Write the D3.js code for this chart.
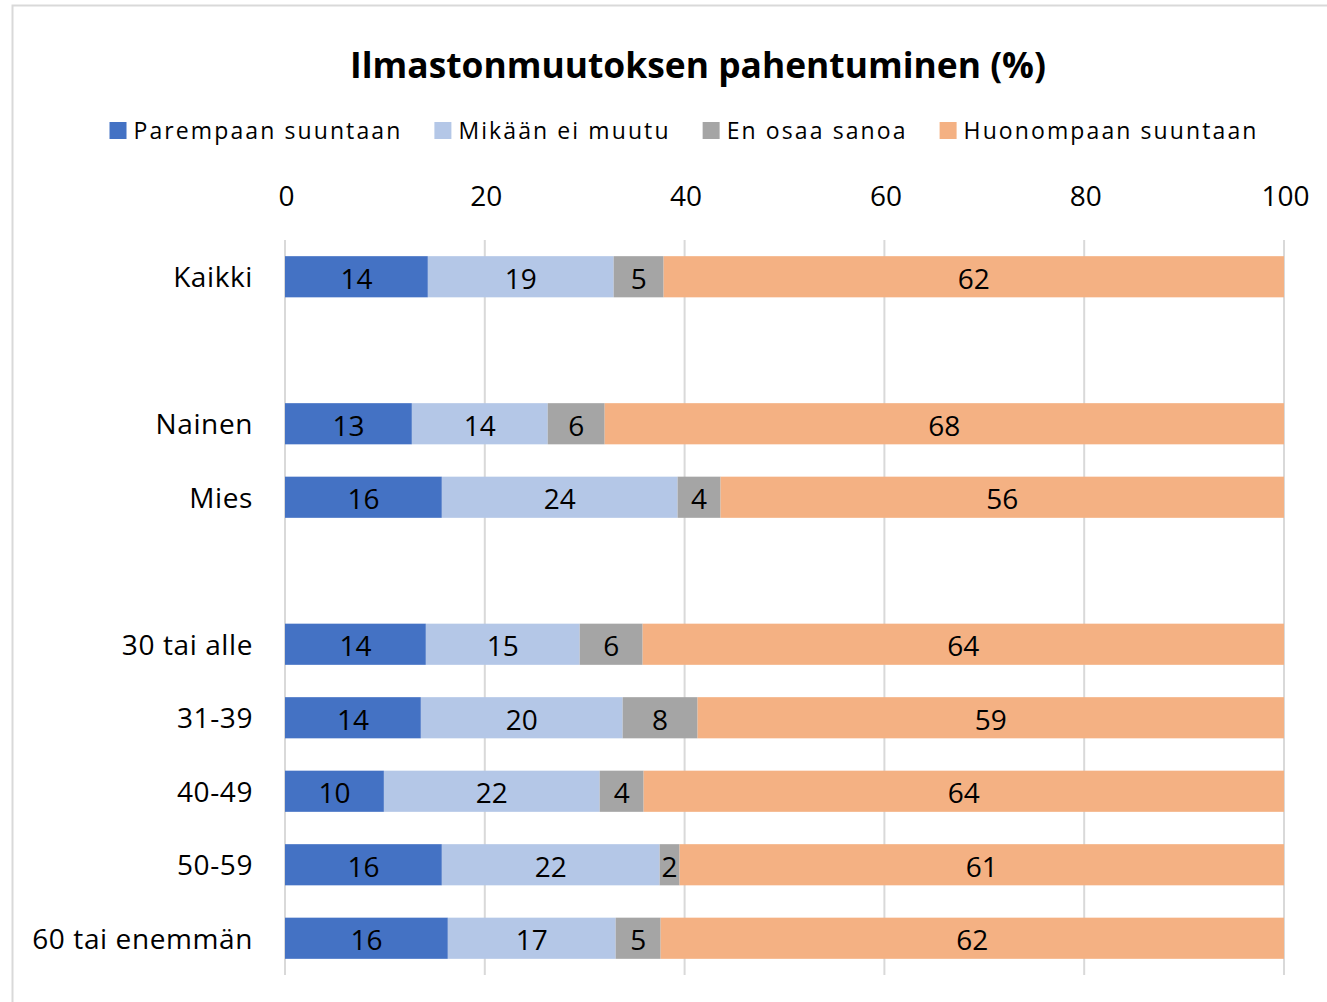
<!DOCTYPE html>
<html>
<head>
<meta charset="utf-8">
<script src="https://cdn.jsdelivr.net/npm/d3@7"></script>
<style>
  body { margin: 0; background: #fff; }
  text { font-family: "Open Sans", sans-serif; fill: #000; }
</style>
</head>
<body>
<svg id="svg" width="1327" height="1002"></svg>
<script>
window.addEventListener("load", init);

// rows of the chart, "" = empty spacer row
var categories = ["Kaikki", "", "Nainen", "Mies", "", "30 tai alle", "31-39", "40-49", "50-59", "60 tai enemmän"];
var series = ["Parempaan suuntaan", "Mikään ei muutu", "En osaa sanoa", "Huonompaan suuntaan"];
var colors = ["#4472C4", "#B4C7E7", "#A5A5A5", "#F4B183"];

// percentages, one array per series (null for spacer rows)
var parempaan = [14.3, null, 12.7, 15.7, null, 14.1, 13.6, 9.9, 15.7, 16.3];
var eiMuutu   = [18.6, null, 13.6, 23.6, null, 15.4, 20.2, 21.6, 21.8, 16.8];
var enOsaa    = [5.0,  null, 5.7,  4.3,  null, 6.3,  7.5,  4.4,  2.0,  4.5];
var huonompaan= [62.1, null, 68.0, 56.4, null, 64.2, 58.7, 64.1, 60.5, 62.4];

var xTicks = [0, 20, 40, 60, 80, 100];
var title = "Ilmastonmuutoksen pahentuminen (%)";

function init(){
  var svg = d3.select("#svg");

  // chart frame
  svg.append("rect")
    .attr("x", 12.5).attr("y", 5.5)
    .attr("width", 1340).attr("height", 1010)
    .attr("fill", "none").attr("stroke", "#d9d9d9").attr("stroke-width", 2);

  svg.append("text")
    .attr("x", 698).attr("y", 78)
    .attr("text-anchor", "middle")
    .attr("font-size", 35).attr("font-weight", "bold")
    .attr("textLength", 696).attr("lengthAdjust", "spacingAndGlyphs")
    .text(title);

  draw_legend(svg);

  var keys = categories.map(function (c, i) { return "r" + i; });
  var y = d3.scaleBand().domain(keys).range([240, 975]).paddingInner(0.44).paddingOuter(0.22);
  var x = d3.scaleLinear().domain([0, 100]).range([285, 1284]);

  // gridlines
  svg.append("g").selectAll("line").data(xTicks).join("line")
    .attr("x1", function (d) { return x(d); })
    .attr("x2", function (d) { return x(d); })
    .attr("y1", 240).attr("y2", 975)
    .attr("stroke", "#d9d9d9").attr("stroke-width", 2);

  var xAxis = svg.append("g")
    .attr("transform", "translate(1,206)")
    .call(d3.axisTop(x).tickValues(xTicks).tickSize(0).tickPadding(0));
  xAxis.select(".domain").remove();
  xAxis.selectAll("text")
    .attr("font-size", 28)
    .style("font-family", "'Open Sans', sans-serif")
    .attr("fill", "#000");

  // stack the series
  var rows = categories.map(function (c, i) {
    return {key: keys[i], name: c, vals: [parempaan[i], eiMuutu[i], enOsaa[i], huonompaan[i]]};
  }).filter(function (r) { return r.name !== ""; });

  var segs = [];
  rows.forEach(function (r) {
    var acc = 0;
    r.vals.forEach(function (v, s) {
      segs.push({key: r.key, s: s, x0: acc, x1: acc + v, v: v});
      acc += v;
    });
  });

  svg.append("g").selectAll("rect").data(segs).join("rect")
    .attr("x", function (d) { return x(d.x0); })
    .attr("width", function (d) { return x(d.x1) - x(d.x0); })
    .attr("y", function (d) { return y(d.key); })
    .attr("height", y.bandwidth())
    .attr("fill", function (d) { return colors[d.s]; });

  svg.append("g").selectAll("text").data(segs).join("text")
    .attr("x", function (d) { return x((d.x0 + d.x1) / 2); })
    .attr("y", function (d) { return y(d.key) + y.bandwidth() / 2; })
    .attr("dy", "0.42em")
    .attr("text-anchor", "middle")
    .attr("font-size", 28)
    .text(function (d) { return Math.round(d.v); });

  svg.append("g").selectAll("text").data(rows).join("text")
    .attr("x", 253)
    .attr("y", function (d) { return y(d.key) + y.bandwidth() / 2; })
    .attr("dy", "0.38em")
    .attr("text-anchor", "end")
    .attr("font-size", 28)
    .attr("letter-spacing", 0.6)
    .text(function (d) { return d.name; });
}

function draw_legend(svg){
  var g = svg.append("g");
  var xpos = 0;
  series.forEach(function (name, i) {
    g.append("rect")
      .attr("x", xpos).attr("y", 122)
      .attr("width", 17).attr("height", 17)
      .attr("fill", colors[i]);
    var t = g.append("text")
      .attr("x", xpos + 24).attr("y", 139)
      .attr("font-size", 23)
      .attr("letter-spacing", 2.1)
      .text(name);
    xpos += 24 + t.node().getComputedTextLength() + 32;
  });
  var total = xpos - 32;
  g.attr("transform", "translate(" + (684 - total / 2) + ",0)");
}
</script>
</body>
</html>
